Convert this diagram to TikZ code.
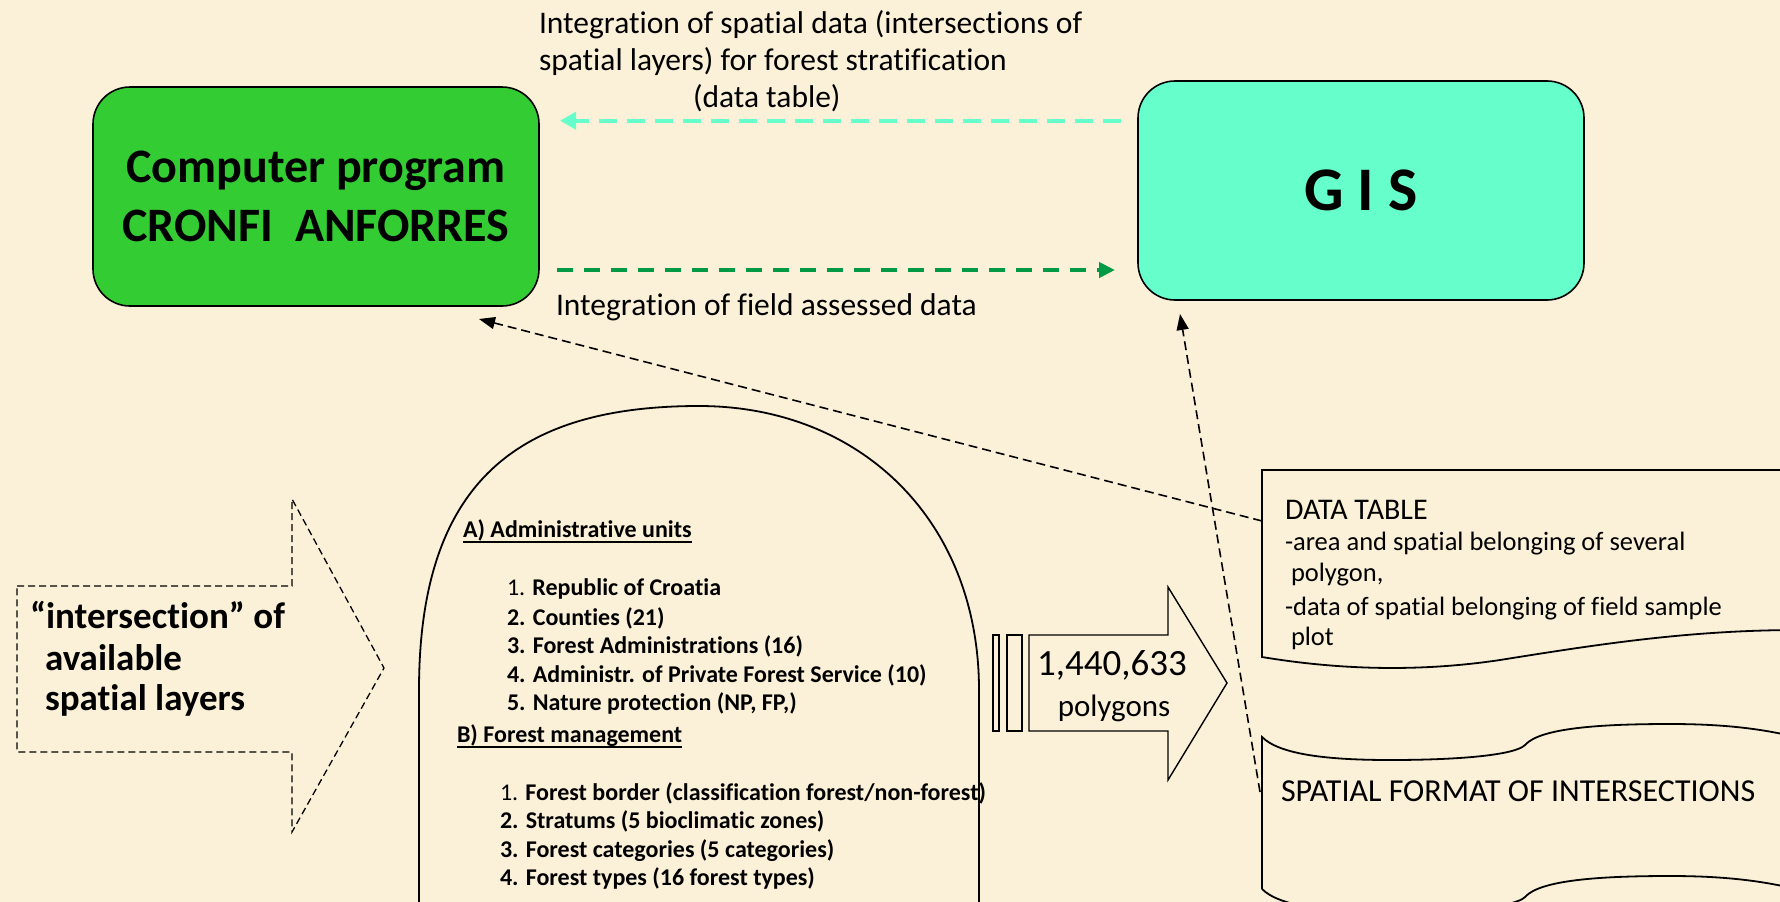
\documentclass[tikz,border=0pt]{standalone}
\usepackage{fontspec}
\setmainfont{Carlito}[Ligatures={NoCommon}]
\XeTeXinterchartokenstate=1
\XeTeXcharclass`t=201
\XeTeXcharclass`f=201
\XeTeXcharclass`i=202
\XeTeXcharclass`l=202
\XeTeXinterchartoks 201 202 = {\kern0pt}
\usetikzlibrary{arrows.meta}
\definecolor{bgcream}{RGB}{251,241,216}
\definecolor{progGreen}{RGB}{51,204,51}
\definecolor{gisCyan}{RGB}{102,255,204}
\definecolor{arrGreen}{RGB}{0,153,68}
\begin{document}
\begin{tikzpicture}[x=1pt,y=-1pt,
  mainbox/.style={draw=black, line width=1.6pt, rounded corners=37pt,
    minimum width=446pt, minimum height=219pt, align=center, inner sep=0pt},
  outline/.style={draw=black, line width=1.8pt},
  thinline/.style={draw=black, line width=1.4pt},
  txt/.style={inner sep=0pt, outer sep=0pt, anchor=base west},
  ctxt/.style={inner sep=0pt, outer sep=0pt, anchor=base},
  blackdash/.style={draw=black, line width=1.6pt, dash pattern=on 9pt off 5pt,
    -{Triangle[length=16pt,width=12pt]}},
  cyandash/.style={draw=gisCyan, line width=4pt, dash pattern=on 18pt off 10pt,
    -{Triangle[length=16pt,width=17pt]}},
  greendash/.style={draw=arrGreen, line width=4pt, dash pattern=on 16pt off 11pt,
    -{Triangle[length=16pt,width=15pt]}},
  leftdash/.style={draw=black, line width=1.3pt, dash pattern=on 7pt off 4pt},
  ulin/.style={draw=black, line width=1.4pt},
  fbig/.style={font=\fontsize{31.5}{37}\selectfont},
  flist/.style={font=\fontsize{24}{28.5}\selectfont},
  fbl/.style={font=\bfseries\fontsize{24}{28.5}\selectfont}
]
\fill[bgcream] (0,0) rectangle (1780,902);
\useasboundingbox (0,0) rectangle (1780,902);

% main boxes
\node[mainbox, fill=progGreen, font=\bfseries\fontsize{48}{59}\selectfont]
  (prog) at (316,196.5) {Computer program\\CRONFI\ \ ANFORRES};
\node[mainbox, fill=gisCyan, font=\bfseries\fontsize{62}{70}\selectfont]
  (gis) at (1361,190.5) {G I S};

% top label
\node[txt, fbig] (tl1) at (539,33) {Integration of spatial data (intersections of};
\node[txt, fbig] (tl2) at (539,70) {spatial layers) for forest stratification};
\node[txt, fbig] (tl3) at (693,107) {(data table)};
\node[txt, fbig] (fl) at (556,315) {Integration of field assessed data};

% coloured arrows
\coordinate (cyS) at (1121,120.7);
\coordinate (cyE) at (560,120.7);
\draw[cyandash] (cyS) -- (cyE);
\coordinate (grS) at (557,270);
\coordinate (grE) at (1115,270);
\draw[greendash] (grS) -- (grE);

\begin{scope}
\clip (0,0) rectangle (1780,902);
% arch
\draw[outline] (419,920) -- (419,690) .. controls (419,480) and (520,406) .. (699,406)
  .. controls (860,406) and (979,520) .. (979,690) -- (979,920);
% data table (document shape)
\draw[outline] (1800,470) -- (1262,470) -- (1262,657)
  .. controls (1340,670) and (1420,672) .. (1500,660)
  .. controls (1600,644) and (1690,630) .. (1800,630);
% spatial format (punched tape)
\draw[outline] (1262,889) -- (1262,737)
  .. controls (1280,755) and (1330,760) .. (1390,760)
  .. controls (1460,760) and (1515,755) .. (1525,745)
  .. controls (1540,728) and (1600,724) .. (1670,724)
  .. controls (1720,724) and (1760,728) .. (1800,738);
\draw[outline] (1262,889)
  .. controls (1280,907) and (1330,912) .. (1390,912)
  .. controls (1460,912) and (1515,907) .. (1525,897)
  .. controls (1540,880) and (1600,876) .. (1670,876)
  .. controls (1720,876) and (1760,880) .. (1800,890);
\end{scope}

% left dashed arrow
\draw[leftdash] (17,586) -- (292,586) -- (292,499) -- (384,668) -- (292,832)
  -- (292,752) -- (17,752) -- cycle;
\node[txt, font=\bfseries\fontsize{37}{41}\selectfont] (int1) at (30,628) {“intersection” of};
\node[txt, font=\bfseries\fontsize{37}{41}\selectfont] (int2) at (45,670) {available};
\node[txt, font=\bfseries\fontsize{37}{41}\selectfont] (int3) at (45,710) {spatial layers};

% middle arrow
\draw[thinline] (993,635) rectangle (999,731);
\draw[thinline] (1007,635) rectangle (1022,731);
\draw[thinline] (1029,635) -- (1168,635) -- (1168,587) -- (1227,683) -- (1168,780)
  -- (1168,731) -- (1029,731) -- cycle;
\node[ctxt, font=\fontsize{37}{42}\selectfont] (poly1) at (1112,675) {1,440,633};
\node[ctxt, font=\fontsize{31}{36}\selectfont] (poly2) at (1114,716) {polygons};

% arch text
\node[txt, fbl] (ha) at (463,537) {A) Administrative units};
\draw[ulin] ([yshift=-5pt]ha.base west) -- ([yshift=-5pt]ha.base east);
\node[txt, flist] (a1) at (507,595) {1. \textbf{Republic of Croatia}};
\node[txt, fbl] (a2) at (507,625) {2. Counties (21)};
\node[txt, fbl] (a3) at (507,653) {3. Forest Administrations (16)};
\node[txt, fbl] (a4) at (507,682) {4. Administr. of Private Forest Service (10)};
\node[txt, fbl] (a5) at (507,710) {5. Nature protection (NP, FP,)};
\node[txt, fbl] (hb) at (457,742) {B) Forest management};
\draw[ulin] ([yshift=-5pt]hb.base west) -- ([yshift=-5pt]hb.base east);
\node[txt, flist] (b1) at (500,800) {1. \textbf{Forest border (classification forest/non-forest)}};
\node[txt, fbl] (b2) at (500,828) {2. Stratums (5 bioclimatic zones)};
\node[txt, fbl] (b3) at (500,857) {3. Forest categories (5 categories)};
\node[txt, fbl] (b4) at (500,885) {4. Forest types (16 forest types)};

% data table text
\node[txt, font=\fontsize{30}{34}\selectfont] (dt1) at (1285,519) {DATA TABLE};
\node[txt, font=\fontsize{26.5}{31}\selectfont] (dt2) at (1285,550) {-area and spatial belonging of several};
\node[txt, font=\fontsize{26.5}{31}\selectfont] (dt3) at (1291,581) {polygon,};
\node[txt, font=\fontsize{26.5}{31}\selectfont] (dt4) at (1285,615) {-data of spatial belonging of field sample};
\node[txt, font=\fontsize{26.5}{31}\selectfont] (dt5) at (1291,645) {plot};
\node[txt, font=\fontsize{32}{37}\selectfont] (sf) at (1281,801) {SPATIAL FORMAT OF INTERSECTIONS};

% black dashed arrows
\coordinate (dtL) at (1262,521);
\coordinate (progT) at (479,319);
\draw[blackdash] (dtL) -- (progT);
\coordinate (sfL) at (1260,792);
\coordinate (gisT) at (1180,314);
\draw[blackdash] (sfL) -- (gisT);
\end{tikzpicture}
\end{document}
